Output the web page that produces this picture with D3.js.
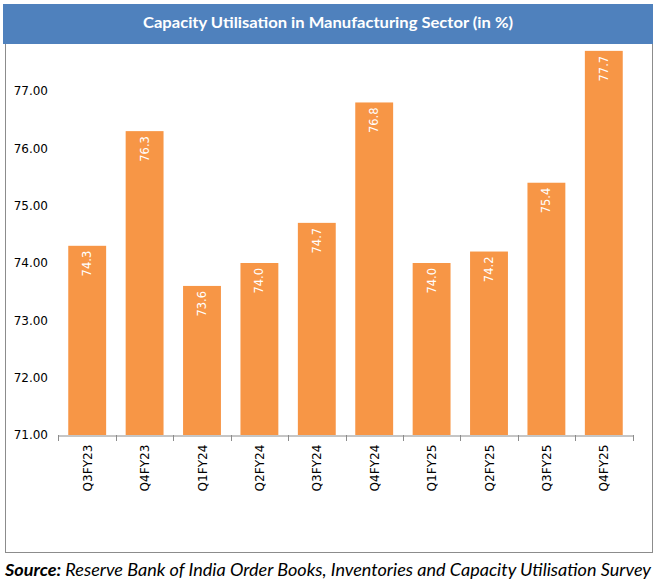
<!DOCTYPE html>
<html>
<head>
<meta charset="utf-8">
<script src="https://cdn.jsdelivr.net/npm/d3@7"></script>
<style>
  body { margin: 0; background: #fff; }
</style>
</head>
<body>
<div class="visHolder"></div>
<script>
const quarters = ['Q3FY23', 'Q4FY23', 'Q1FY24', 'Q2FY24', 'Q3FY24', 'Q4FY24', 'Q1FY25', 'Q2FY25', 'Q3FY25', 'Q4FY25'];
const utilisation = [74.3, 76.3, 73.6, 74.0, 74.7, 76.8, 74.0, 74.2, 75.4, 77.7];
const yTicks = [71, 72, 73, 74, 75, 76, 77];

const width = 657,
    height = 586;

const svg = d3.select('.visHolder')
    .append('svg')
    .attr('width', width)
    .attr('height', height);

// outer box
svg.append('rect')
    .attr('x', 5.5)
    .attr('y', 4.5)
    .attr('width', 647)
    .attr('height', 548)
    .attr('fill', '#fff')
    .attr('stroke', '#8c8c8c')
    .attr('stroke-width', 1);

const xScale = d3.scaleBand()
    .domain(quarters)
    .range([58.5, 632.5])
    .paddingInner(0.34)
    .paddingOuter(0.17);

const yScale = d3.scaleLinear()
    .domain([71, 77])
    .range([435, 91]);

// bars
svg.selectAll('rect.bar')
    .data(utilisation)
    .enter()
    .append('rect')
    .attr('class', 'bar')
    .attr('x', (d, i) => xScale(quarters[i]))
    .attr('y', d => yScale(d))
    .attr('width', xScale.bandwidth())
    .attr('height', d => yScale(71) - yScale(d))
    .style('fill', '#F79646');

// value labels inside bars
svg.selectAll('text.val')
    .data(utilisation)
    .enter()
    .append('text')
    .attr('class', 'val')
    .attr('transform', (d, i) => `translate(${xScale(quarters[i]) + xScale.bandwidth() / 2 + 4},${yScale(d) + 5}) rotate(-90)`)
    .attr('text-anchor', 'end')
    .style('font-family', 'DejaVu Sans')
    .style('font-size', '11.5px')
    .style('fill', '#fff')
    .text(d => d.toFixed(1));

// x axis
const xAxis = d3.axisBottom(xScale).tickSize(0).tickSizeOuter(0);
const gx = svg.append('g')
    .attr('id', 'x-axis')
    .attr('font-family', 'DejaVu Sans')
    .attr('transform', 'translate(0,435.5)')
    .call(xAxis);
gx.select('.domain').attr('stroke', '#8c8c8c');
gx.selectAll('.tick text')
    .attr('transform', 'translate(4.5,9) rotate(-90)')
    .attr('text-anchor', 'end')
    .attr('dy', 0)
    .attr('y', 0)
    .attr('textLength', 47)
    .attr('lengthAdjust', 'spacingAndGlyphs')
    .style('font-family', 'DejaVu Sans')
    .style('font-size', '12px')
    .style('fill', '#000');

// category separator ticks
const edges = quarters.map(q => xScale(q) - xScale.step() * xScale.paddingInner() / 2);
edges.push(632.5);
svg.append('g')
    .selectAll('line')
    .data(edges)
    .enter()
    .append('line')
    .attr('x1', d => Math.round(d) + 0.5)
    .attr('x2', d => Math.round(d) + 0.5)
    .attr('y1', 435)
    .attr('y2', 441)
    .attr('stroke', '#8c8c8c');

// y axis labels (no line)
const yAxis = d3.axisLeft(yScale).tickValues(yTicks).tickFormat(d3.format('.2f')).tickSize(0);
const gy = svg.append('g')
    .attr('id', 'y-axis')
    .attr('font-family', 'DejaVu Sans')
    .attr('transform', 'translate(51,0)')
    .call(yAxis);
gy.select('.domain').remove();
gy.selectAll('.tick text')
    .style('font-family', 'DejaVu Sans')
    .style('font-size', '12px')
    .style('fill', '#000');

// title bar
svg.append('rect')
    .attr('x', 3)
    .attr('y', 4)
    .attr('width', 650)
    .attr('height', 40)
    .attr('fill', '#4F81BD');

svg.append('text')
    .attr('x', 143)
    .attr('y', 28)
    .attr('textLength', 370)
    .attr('lengthAdjust', 'spacingAndGlyphs')
    .style('font-family', 'Lato')
    .style('font-weight', 'bold')
    .style('font-size', '16px')
    .style('fill', '#fff')
    .text('Capacity Utilisation in Manufacturing Sector (in %)');

// source
const src = svg.append('text')
    .attr('x', 5)
    .attr('y', 576)
    .attr('textLength', 646)
    .attr('lengthAdjust', 'spacingAndGlyphs')
    .style('font-family', 'Lato')
    .style('font-style', 'italic')
    .style('font-size', '17px')
    .style('fill', '#000');
src.append('tspan').style('font-weight', 'bold').text('Source:');
src.append('tspan').text(' Reserve Bank of India Order Books, Inventories and Capacity Utilisation Survey');
</script>
</body>
</html>
